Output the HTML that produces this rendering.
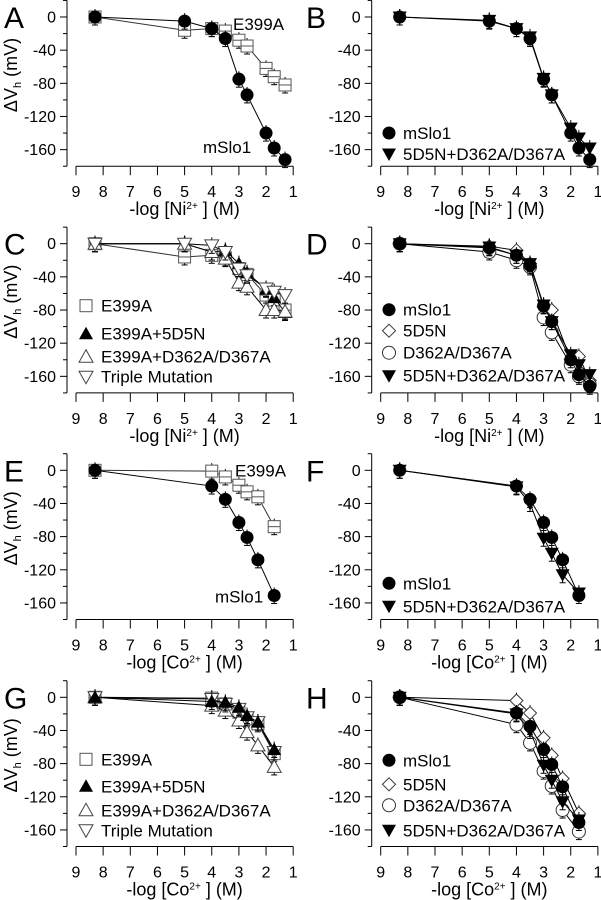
<!DOCTYPE html>
<html><head><meta charset="utf-8"><style>
html,body{margin:0;padding:0;background:#fff;}
svg{display:block;font-family:"Liberation Sans",Arial,sans-serif;}
text{font-family:"Liberation Sans",Arial,sans-serif;}
</style></head><body>
<svg id="fig" width="601" height="900" viewBox="0 0 601 900" xmlns="http://www.w3.org/2000/svg"></svg>
<script>
const niX = [8.3, 5, 4, 3.5, 3, 2.7, 2, 1.7, 1.3];
const coX = [8.3, 4, 3.5, 3, 2.7, 2.3, 1.7];
const yTicks = [0, -40, -80, -120, -160];
const xTicks = [9, 8, 7, 6, 5, 4, 3, 2, 1];
// Ni series
const niMslo1 = [0, -5, -14, -26, -75, -94, -140, -158, -172];
const niE399A = [0, -16, -14, -17, -28, -35, -62, -72, -82];
const niTripleB = [0, -4, -14, -24, -74, -94, -134, -146, -158];
const niE399A_C = [0, -16, -14, -17, -30, -37, -62, -68, -80];
const niE399A5D5N = [0, 0, -10, -8, -24, -35, -55, -65, -83];
const niE399AD362 = [0, 0, -10, -18, -47, -52, -80, -80, -82];
const niTripleMut = [0, 0, -2, -10, -30, -38, -54, -58, -62];
const ni5D5N = [0, -3, -8, -24, -76, -80, -140, -136, -165];
const niD362 = [0, -10, -20, -28, -89, -107, -146, -160, -170];
// Co series
const coMslo1 = [0, -19, -35, -63, -81, -108, -151];
const coE399A = [0, -1, -8, -18, -26, -32, -68];
const coTriple = [0, -20, -40, -82, -100, -126, -148];
const coE399A5D5N = [0, -5, -6, -12, -22, -30, -63];
const coE399AD362 = [0, -10, -16, -28, -42, -58, -84];
const coTripleMut = [0, -2, -8, -14, -24, -30, -66];
const co5D5N = [0, -4, -19, -49, -70, -98, -140];
const coD362 = [0, -33, -55, -89, -107, -136, -162];

const NS = "http://www.w3.org/2000/svg";
const FONT = '"Liberation Sans", Arial, sans-serif';
const svg = document.getElementById('fig');
function el(tag, attrs, parent, text) {
  const e = document.createElementNS(NS, tag);
  for (const k in attrs) e.setAttribute(k, attrs[k]);
  if (tag === 'text') e.setAttribute('font-family', FONT);
  if (text !== undefined) e.textContent = text;
  (parent || svg).appendChild(e);
  return e;
}
const YS = 0.829, XS = 27.15;
function marker(g, type, cx, cy, legend) {
  let m;
  const r = 6.5;
  if (type === 'circle') m = el('circle', {cx, cy, r, fill: '#000'}, g);
  else if (type === 'ocircle') m = el('circle', {cx, cy, r, fill: '#fff', stroke: '#333', 'stroke-width': 1}, g);
  else if (type === 'square') { m = el('rect', {x: cx - 6, y: cy - 6, width: 12, height: 12, fill: '#fff', stroke: '#555', 'stroke-width': 1}, g); if (!legend) el('line', {x1: cx - 6, x2: cx + 6, y1: cy, y2: cy, stroke: '#555'}, g); }
  else if (type === 'tri') m = el('polygon', {points: `${cx},${cy - 7} ${cx - 7},${cy + 5.5} ${cx + 7},${cy + 5.5}`, fill: '#000'}, g);
  else if (type === 'otri') m = el('polygon', {points: `${cx},${cy - 7} ${cx - 7},${cy + 5.5} ${cx + 7},${cy + 5.5}`, fill: '#fff', stroke: '#444'}, g);
  else if (type === 'itri') m = el('polygon', {points: `${cx - 7},${cy - 5.5} ${cx + 7},${cy - 5.5} ${cx},${cy + 7}`, fill: '#000'}, g);
  else if (type === 'oitri') m = el('polygon', {points: `${cx - 7},${cy - 5.5} ${cx + 7},${cy - 5.5} ${cx},${cy + 7}`, fill: '#fff', stroke: '#444'}, g);
  else if (type === 'diamond') m = el('polygon', {points: `${cx},${cy - 6.5} ${cx + 6.5},${cy} ${cx},${cy + 6.5} ${cx - 6.5},${cy}`, fill: '#fff', stroke: '#333'}, g);
  return m;
}
function panel(opt) {
  const g = el('g', {});
  
  
  const ax = opt.left ? 67 : 371.7;
  const x0 = opt.left ? 76 : 380.7;
  const z = opt.zero;
  const sx = v => x0 + (9 - v) * XS;
  const sy = v => z - v * YS;
  const L = el('text', {x: opt.left ? 4 : 306, y: z + 11, 'font-size': 30}, g, opt.letter);
  
  
  const ya = el('line', {x1: ax, x2: ax, y1: sy(20), y2: sy(-180), stroke: '#000', 'stroke-width': 1}, g);
  
  
  for (let v = 20; v >= -180; v -= 20) {
    const major = yTicks.includes(v);
    el('line', {x1: ax - (major ? 7 : 4), x2: ax, y1: sy(v), y2: sy(v), stroke: '#000'}, g);
  }
  yTicks.forEach(v => {
    const t = el('text', {x: ax - 11, y: sy(v) + 5.5, 'font-size': 16, 'text-anchor': 'end'}, g, String(v));
    
    
  });
  if (opt.left) {
    const yt = el('text', {transform: `translate(17,${z + 58}) rotate(-90)`, 'font-size': 18, 'text-anchor': 'middle'}, g);
    
    
    el('tspan', {}, yt, 'ΔV');
    el('tspan', {'font-size': 11, dy: 4}, yt, 'h');
    el('tspan', {dy: -4}, yt, ' (mV)');
  }
  const by = sy(-180);
  const xa = el('line', {x1: sx(9), x2: sx(1), y1: by, y2: by, stroke: '#000'}, g);
  
  
  xTicks.forEach(v => {
    el('line', {x1: sx(v), x2: sx(v), y1: by, y2: by + 9, stroke: '#000'}, g);
    const t = el('text', {x: sx(v), y: by + 31, 'font-size': 16, 'text-anchor': 'middle'}, g, String(v));
    
    
  });
  const xt = el('text', {x: sx(5), y: by + 49, 'font-size': 18, 'text-anchor': 'middle'}, g);
  
  
  el('tspan', {}, xt, '-log [' + opt.ion);
  el('tspan', {'font-size': 10, dy: -6}, xt, '2+');
  el('tspan', {dy: 6}, xt, ' ] (M)');
  opt.series.forEach(s => {
    const sg = el('g', {}, g);
    
    
    const pts = s.x.map((xv, i) => sx(xv) + ',' + sy(s.y[i])).join(' ');
    el('polyline', {points: pts, fill: 'none', stroke: s.stroke || '#000', 'stroke-width': 1}, sg);
    s.x.forEach((xv, i) => {
      const cx = sx(xv), cy = sy(s.y[i]);
      el('line', {x1: cx, x2: cx, y1: cy - 8, y2: cy + 8, stroke: '#000', 'stroke-width': 1}, sg);
      el('line', {x1: cx - 3, x2: cx + 3, y1: cy + 8, y2: cy + 8, stroke: '#000', 'stroke-width': 1}, sg);
      const m = marker(sg, s.type, cx, cy);
      
      
    });
  });
  (opt.legend || []).forEach(le => {
    const lg = el('g', {}, g);
    
    
    const mx = opt.left ? 86 : 389;
    marker(lg, le.type, mx, z + le.dy, true);
    el('text', {x: opt.left ? 101 : 403, y: z + le.dy + 6, 'font-size': 17}, lg, le.label);
  });
  (opt.notes || []).forEach(n => {
    const t = el('text', {x: n.x, y: z + n.dy, 'font-size': 17}, g, n.label);
    
    
  });
}
const Z = [17, 243.7, 470.3, 697.3];
panel({letter: 'A', left: true, zero: Z[0], ion: 'Ni',
  series: [
    {name: 'e399a', x: niX, y: niE399A, type: 'square', stroke: '#333'},
    {name: 'mslo1', x: niX, y: niMslo1, type: 'circle'}],
  notes: [{x: 233, dy: 13, label: 'E399A'}, {x: 203, dy: 136, label: 'mSlo1'}]});
panel({letter: 'B', left: false, zero: Z[0], ion: 'Ni',
  series: [
    {name: 'triple', x: niX, y: niTripleB, type: 'itri'},
    {name: 'mslo1', x: niX, y: niMslo1, type: 'circle'}],
  legend: [{type: 'circle', dy: 116, label: 'mSlo1'}, {type: 'itri', dy: 137, label: '5D5N+D362A/D367A'}]});
panel({letter: 'C', left: true, zero: Z[1], ion: 'Ni',
  series: [
    {name: 'e399a', x: niX, y: niE399A_C, type: 'square', stroke: '#333'},
    {name: 'e399a-5d5n', x: niX, y: niE399A5D5N, type: 'tri'},
    {name: 'e399a-d362a', x: niX, y: niE399AD362, type: 'otri'},
    {name: 'triple-mutation', x: niX, y: niTripleMut, type: 'oitri'}],
  legend: [{type: 'square', dy: 62, label: 'E399A'}, {type: 'tri', dy: 90, label: 'E399A+5D5N'},
    {type: 'otri', dy: 113, label: 'E399A+D362A/D367A'}, {type: 'oitri', dy: 133, label: 'Triple Mutation'}]});
panel({letter: 'D', left: false, zero: Z[1], ion: 'Ni',
  series: [
    {name: '5d5n', x: niX, y: ni5D5N, type: 'diamond'},
    {name: 'd362a', x: niX, y: niD362, type: 'ocircle'},
    {name: 'triple', x: niX, y: niTripleB, type: 'itri'},
    {name: 'mslo1', x: niX, y: niMslo1, type: 'circle'}],
  legend: [{type: 'circle', dy: 66, label: 'mSlo1'}, {type: 'diamond', dy: 87, label: '5D5N'},
    {type: 'ocircle', dy: 109, label: 'D362A/D367A'}, {type: 'itri', dy: 132, label: '5D5N+D362A/D367A'}]});
panel({letter: 'E', left: true, zero: Z[2], ion: 'Co',
  series: [
    {name: 'e399a', x: coX, y: coE399A, type: 'square', stroke: '#333'},
    {name: 'mslo1', x: coX, y: coMslo1, type: 'circle'}],
  notes: [{x: 235, dy: 6, label: 'E399A'}, {x: 215, dy: 132, label: 'mSlo1'}]});
panel({letter: 'F', left: false, zero: Z[2], ion: 'Co',
  series: [
    {name: 'triple', x: coX, y: coTriple, type: 'itri'},
    {name: 'mslo1', x: coX, y: coMslo1, type: 'circle'}],
  legend: [{type: 'circle', dy: 113, label: 'mSlo1'}, {type: 'itri', dy: 136, label: '5D5N+D362A/D367A'}]});
panel({letter: 'G', left: true, zero: Z[3], ion: 'Co',
  series: [
    {name: 'e399a', x: coX, y: coE399A, type: 'square', stroke: '#333'},
    {name: 'e399a-d362a', x: coX, y: coE399AD362, type: 'otri'},
    {name: 'triple-mutation', x: coX, y: coTripleMut, type: 'oitri'},
    {name: 'e399a-5d5n', x: coX, y: coE399A5D5N, type: 'tri'}],
  legend: [{type: 'square', dy: 62, label: 'E399A'}, {type: 'tri', dy: 89, label: 'E399A+5D5N'},
    {type: 'otri', dy: 113, label: 'E399A+D362A/D367A'}, {type: 'oitri', dy: 133, label: 'Triple Mutation'}]});
panel({letter: 'H', left: false, zero: Z[3], ion: 'Co',
  series: [
    {name: '5d5n', x: coX, y: co5D5N, type: 'diamond'},
    {name: 'd362a', x: coX, y: coD362, type: 'ocircle'},
    {name: 'triple', x: coX, y: coTriple, type: 'itri'},
    {name: 'mslo1', x: coX, y: coMslo1, type: 'circle'}],
  legend: [{type: 'circle', dy: 63, label: 'mSlo1'}, {type: 'diamond', dy: 87, label: '5D5N'},
    {type: 'ocircle', dy: 108, label: 'D362A/D367A'}, {type: 'itri', dy: 133, label: '5D5N+D362A/D367A'}]});
</script>
</body></html>
